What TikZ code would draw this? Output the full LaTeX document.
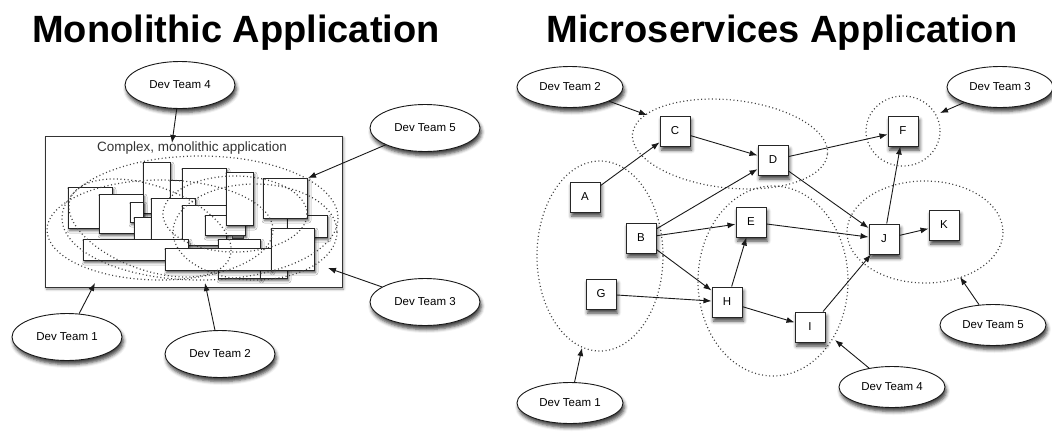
\documentclass[tikz,border=0pt]{standalone}
\usepackage{fontspec}
\setmainfont{Liberation Sans}
\usetikzlibrary{arrows.meta,shapes.geometric,shadows.blur}

\tikzset{
  title/.style={font=\bfseries\fontsize{38}{40}\selectfont, anchor=base, inner sep=0pt},
  softshadow/.style={blur shadow={shadow xshift=1.5pt, shadow yshift=-4pt,
      shadow blur radius=3.5pt, shadow opacity=75}},
  teamL/.style={ellipse, draw=black!90, fill=white, line width=0.9pt,
      minimum width=110pt, minimum height=47pt, inner sep=0pt,
      font=\fontsize{11.5}{12}\selectfont, softshadow},
  teamR/.style={teamL, minimum width=106pt, minimum height=41pt},
  svc/.style={rectangle, draw=black!85, fill=white, line width=1pt,
      minimum size=30pt, inner sep=0pt, font=\fontsize{11.5}{12}\selectfont, softshadow},
  blk/.style={draw=black!85, fill=white, line width=1pt,
      blur shadow={shadow xshift=1.5pt, shadow yshift=-2.5pt,
      shadow blur radius=2.5pt, shadow opacity=70}},
  grp/.style={draw=black!75, line width=1.2pt, dash pattern=on 1pt off 2.6pt},
  arr/.style={draw=black!90, line width=0.9pt, -{Latex[length=8pt,width=6pt]}},
}

\begin{document}
\begin{tikzpicture}[x=1pt, y=-1pt]
\useasboundingbox (0,0) rectangle (1052,440);

% ---------------- headings ----------------
\node[title] (tmono) at (236,42) {Monolithic Application};
\node[title] (tmicro) at (782,42) {Microservices Application};

% ---------------- monolith ----------------
\draw[draw=black!80, fill=white, line width=0.8pt,
      blur shadow={shadow xshift=1.5pt, shadow yshift=-2pt, shadow blur radius=2.5pt, shadow opacity=45}]
      (45,136) rectangle (342,287);
\node[font=\fontsize{13.5}{14}\selectfont, text=black!80] (mlabel) at (192,148)
      {Complex, monolithic application};

% tangled components, back to front
\draw[blk] (287,215) rectangle (327,237);
\draw[blk] (263,178) rectangle (307,218);
\draw[blk] (68,187) rectangle (112,228);
\draw[blk] (143,162) rectangle (170,213);
\draw[blk] (170,180) rectangle (183,200);
\draw[blk] (182,168) rectangle (226,205);
\draw[blk] (99,194) rectangle (143,233);
\draw[blk] (130,202) rectangle (143,222);
\draw[blk] (134,217) rectangle (152,240);
\draw[blk] (151,198) rectangle (195,240);
\draw[blk] (182,205) rectangle (226,245);
\draw[blk] (205,215) rectangle (245,235);
\draw[blk] (226,172) rectangle (253,225);
\draw[draw=black!80, fill=black!60] (232,235) rectangle (243,238);
\draw[blk] (218,239) rectangle (260,278);
\draw[blk] (260,268) rectangle (287,278);
\draw[blk] (83,239) rectangle (188,260);
\draw[blk] (165,248) rectangle (271,270);
\draw[blk] (271,228) rectangle (314,270);

% team boundaries cutting across the monolith
\draw[grp] (200,218) ellipse [x radius=138, y radius=62];
\draw[grp] (160,230) ellipse [x radius=113, y radius=50];
\draw[grp] (255,232) ellipse [x radius=82, y radius=48];
\draw[grp] (150,228) ellipse [x radius=85, y radius=42, rotate=-20];
\draw[grp] (235,214) ellipse [x radius=72, y radius=38];

% teams around the monolith
\node[teamL] (lt4) at (180,85) {Dev Team 4};
\node[teamL] (lt5) at (425,128) {Dev Team 5};
\node[teamL] (lt3) at (425,302) {Dev Team 3};
\node[teamL] (lt1) at (67,337) {Dev Team 1};
\node[teamL] (lt2) at (220,354) {Dev Team 2};

\coordinate (m4) at (172,143);
\coordinate (m5) at (308,178);
\coordinate (m3) at (328,268);
\coordinate (m1) at (95,283);
\coordinate (m2) at (205,283);

\draw[arr] (lt4) -- (m4);
\draw[arr] (lt5) -- (m5);
\draw[arr] (lt3) -- (m3);
\draw[arr] (lt1) -- (m1);
\draw[arr] (lt2) -- (m2);

% ---------------- microservices ----------------
% team boundaries
\draw[grp] (730,144) ellipse [x radius=98, y radius=44, rotate=-6];
\draw[grp] (903,131) ellipse [x radius=37, y radius=35];
\draw[grp] (600,256) ellipse [x radius=63, y radius=95];
\draw[grp] (773,281) ellipse [x radius=75, y radius=95];
\draw[grp] (925,232) ellipse [x radius=78, y radius=51];

% services
\node[svc] (C) at (675,131) {C};
\node[svc] (D) at (773,160) {D};
\node[svc] (F) at (903,131) {F};
\node[svc] (A) at (585,197) {A};
\node[svc] (B) at (641,238) {B};
\node[svc] (E) at (751,222) {E};
\node[svc] (J) at (884,239) {J};
\node[svc] (K) at (944,225) {K};
\node[svc] (G) at (601,294) {G};
\node[svc] (H) at (727,302) {H};
\node[svc] (I) at (810,327) {I};

% calls between services
\draw[arr] (A) -- (C);
\draw[arr] (C) -- (D);
\draw[arr] (B) -- (D);
\draw[arr] (B) -- (E);
\draw[arr] (B) -- (H);
\draw[arr] (G) -- (H);
\draw[arr] (H) -- (E);
\draw[arr] (H) -- (I);
\draw[arr] (E) -- (J);
\draw[arr] (D) -- (J);
\draw[arr] (D) -- (F);
\draw[arr] (J) -- (F);
\draw[arr] (J) -- (K);
\draw[arr] (I) -- (J);

% teams owning services
\node[teamR] (rt2) at (570,87) {Dev Team 2};
\node[teamR] (rt3) at (1000,87) {Dev Team 3};
\node[teamR] (rt5) at (993,325) {Dev Team 5};
\node[teamR] (rt4) at (892,387) {Dev Team 4};
\node[teamR] (rt1) at (570,403) {Dev Team 1};

\coordinate (g2) at (647,115);
\coordinate (g3) at (940,113);
\coordinate (g5) at (960,277);
\coordinate (g4) at (835,340);
\coordinate (g1) at (582,348);

\draw[arr] (rt2) -- (g2);
\draw[arr] (rt3) -- (g3);
\draw[arr] (rt5) -- (g5);
\draw[arr] (rt4) -- (g4);
\draw[arr] (rt1) -- (g1);
\end{tikzpicture}
\end{document}
